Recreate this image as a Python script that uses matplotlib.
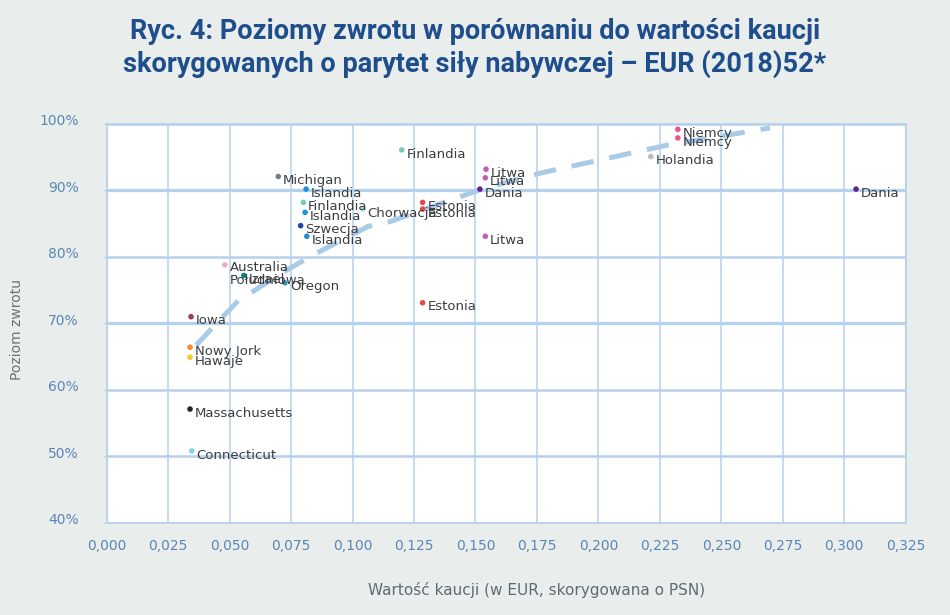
import matplotlib
matplotlib.use("Agg")
import matplotlib.pyplot as plt
import matplotlib.transforms as mtransforms
from matplotlib.ticker import FuncFormatter, MultipleLocator

# Data
labels = ["Michigan", "Islandia", "Finlandia", "Islandia", "Szwecja", "Islandia",
          "Chorwacja", "Australia\nPołudniowa", "Izrael", "Oregon", "Iowa",
          "Nowy Jork", "Hawaje", "Massachusetts", "Connecticut",
          "Finlandia", "Litwa", "Litwa", "Dania", "Estonia", "Estonia", "Litwa",
          "Estonia", "Holandia", "Niemcy", "Niemcy", "Dania"]
deposit = [0.0698, 0.0811, 0.0800, 0.0807, 0.0789, 0.0814,
           0.1041, 0.0481, 0.0558, 0.0725, 0.0343,
           0.0339, 0.0339, 0.0339, 0.0346,
           0.1200, 0.1543, 0.1540, 0.1518, 0.1285, 0.1285, 0.1540,
           0.1285, 0.2213, 0.2323, 0.2323, 0.3048]
return_rate = [92.1, 90.2, 88.2, 86.7, 84.7, 83.1,
               87.2, 78.8, 77.2, 76.1, 71.0,
               66.4, 64.9, 57.1, 50.8,
               96.1, 93.2, 91.9, 90.2, 88.2, 87.2, 83.1,
               73.1, 95.1, 99.2, 97.9, 90.2]
colors = ["#6f7f8c", "#1e8fd8", "#74cfb1", "#1e8fd8", "#17479e", "#1e8fd8",
          "#a6e3e0", "#f5a9c0", "#0e7f82", "#2f93cf", "#9b3b5c",
          "#f28a35", "#f9c920", "#1b2530", "#8fcdef",
          "#74cfb1", "#c05fb5", "#c05fb5", "#6b1f8e", "#e24a4a", "#e24a4a", "#c05fb5",
          "#e24a4a", "#bdbdbd", "#f2528c", "#f2528c", "#6b1f8e"]

# trend line (logarithmic)
trend_x = [0.0364, 0.0434, 0.0535, 0.0732, 0.0840, 0.1064, 0.1152, 0.1518, 0.1763, 0.2278, 0.2698]
trend_y = [66.7, 69.5, 73.4, 78.0, 80.3, 84.6, 85.3, 90.1, 92.6, 96.8, 99.4]

y_ticks = [40, 50, 60, 70, 80, 90, 100]
x_ticks = [0.025 * i for i in range(14)]

bg = "#e9eeed"
grid_col = "#b5d1ec"
tick_col = "#5b86b5"

fig = plt.figure(figsize=(9.5, 6.15), dpi=100, facecolor=bg)
ax = fig.add_axes([0.1123, 0.1501, 0.8411, 0.6483])
ax.set_facecolor("white")

ax.set_xlim(0, 0.325)
ax.set_ylim(40, 100)

# grid
for xv in x_ticks:
    ax.axvline(xv, color=grid_col, lw=1.1, zorder=1)
for yv in y_ticks:
    ax.axhline(yv, color=grid_col, lw=2.3 if yv in (70, 90) else 1.8, zorder=1)

for s in ax.spines.values():
    s.set_color(grid_col)
    s.set_linewidth(1.2)

ax.plot(trend_x, trend_y, color="#a9cbe8", lw=3.6, dashes=(4.5, 3.2),
        solid_capstyle="butt", zorder=2)

ax.scatter(deposit, return_rate, s=16, c=colors, zorder=3, linewidths=0)

for name, xv, yv in zip(labels, deposit, return_rate):
    if "\n" in name:
        ax.annotate(name, (xv, yv), xytext=(3.5, 3), textcoords="offset points",
                    ha="left", va="top", fontsize=9.5, color="#3a3d40",
                    linespacing=1.05, zorder=4)
    else:
        ax.annotate(name, (xv, yv), xytext=(3.5, -3), textcoords="offset points",
                    ha="left", va="center", fontsize=9.5, color="#3a3d40", zorder=4)

ax.xaxis.set_major_locator(MultipleLocator(0.025))
ax.set_yticks(y_ticks)
ax.xaxis.set_major_formatter(FuncFormatter(lambda v, p: f"{v:.3f}".replace(".", ",")))
ax.yaxis.set_major_formatter(FuncFormatter(lambda v, p: f"{v:.0f}%"))
ax.tick_params(axis="x", length=0, pad=12, labelsize=10, labelcolor=tick_col)
ax.tick_params(axis="y", length=3, color=grid_col, pad=17, labelsize=10, labelcolor=tick_col)

# y labels sit a little above their gridlines in the original
shift = mtransforms.ScaledTranslation(0, 3 / 72, fig.dpi_scale_trans)
for t in ax.get_yticklabels():
    t.set_transform(t.get_transform() + shift)

fig.text(0.018, 0.465, "Poziom zwrotu", rotation=90, ha="center", va="center",
         fontsize=10, color="#6b7378")
fig.text(0.565, 0.04, "Wartość kaucji (w EUR, skorygowana o PSN)", ha="center", va="center",
         fontsize=11, color="#5f6b72")

fig.text(0.5, 0.949, "Ryc. 4: Poziomy zwrotu w porównaniu do wartości kaucji",
         ha="center", va="center", fontsize=19.5, fontweight="bold", color="#1f4e8c",
         family="Roboto")
fig.text(0.5, 0.896, "skorygowanych o parytet siły nabywczej – EUR (2018)52*",
         ha="center", va="center", fontsize=19.5, fontweight="bold", color="#1f4e8c",
         family="Roboto")

fig.savefig("out.png", dpi=100, facecolor=bg)
